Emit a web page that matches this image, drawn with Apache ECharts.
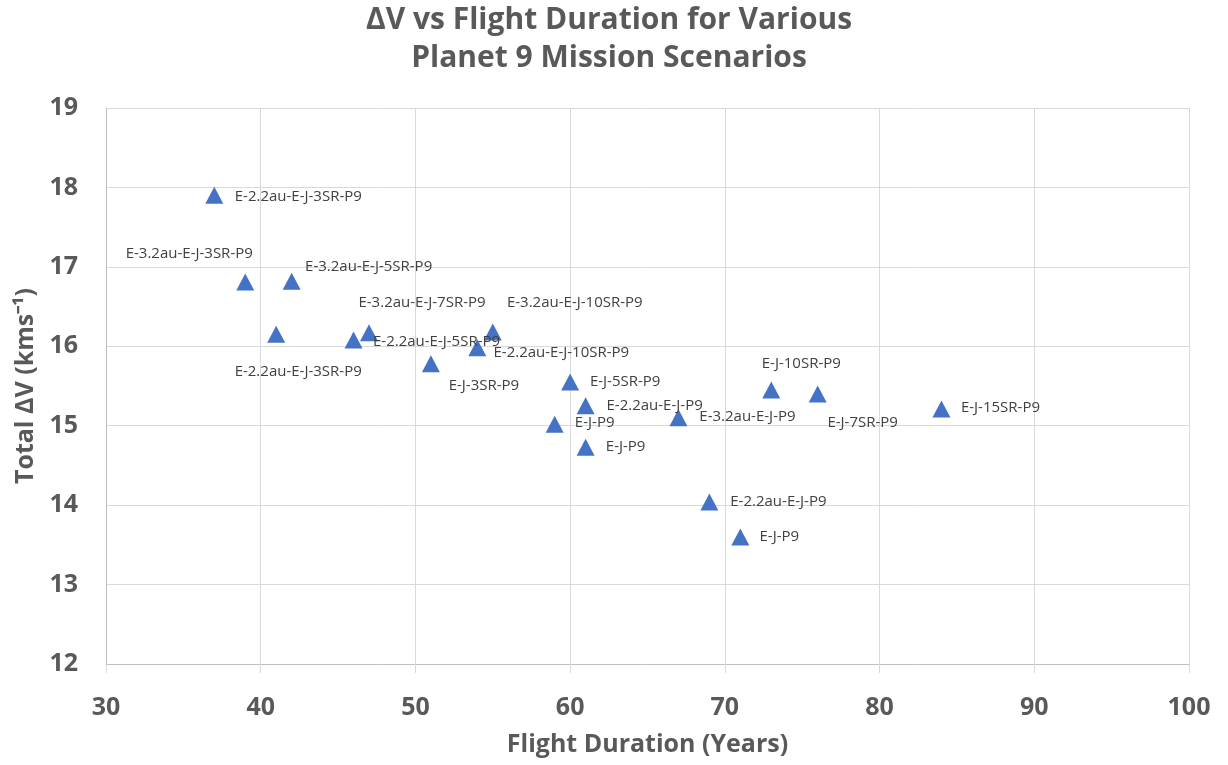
<!DOCTYPE html>
<html><head><meta charset="utf-8">
<script src="https://cdn.jsdelivr.net/npm/echarts@6/dist/echarts.min.js"></script>
<style>html,body{margin:0;padding:0;background:#fff}#c{width:1228px;height:765px}</style>
</head><body><div id="c"></div>
<script>
const names = ["E-2.2au-E-J-3SR-P9","E-3.2au-E-J-3SR-P9","E-3.2au-E-J-5SR-P9","E-2.2au-E-J-3SR-P9","E-2.2au-E-J-5SR-P9","E-3.2au-E-J-7SR-P9","E-J-3SR-P9","E-2.2au-E-J-10SR-P9","E-3.2au-E-J-10SR-P9","E-J-5SR-P9","E-2.2au-E-J-P9","E-J-P9","E-J-P9","E-3.2au-E-J-P9","E-J-10SR-P9","E-J-7SR-P9","E-J-15SR-P9","E-2.2au-E-J-P9","E-J-P9"];
const years = [37,39,42,41,46,47,51,54,55,60,61,59,61,67,73,76,84,69,71];
const deltaV = [17.90,16.81,16.82,16.15,16.08,16.17,15.78,15.98,16.18,15.55,15.25,15.02,14.73,15.10,15.45,15.40,15.21,14.04,13.60];
const xTicks = [30,40,50,60,70,80,90,100];
const yTicks = [12,13,14,15,16,17,18,19];
// label offsets from marker centre (style only)
const labelOffsets = [[84,1],[-56,-28],[77,-14],[22,37],[83,2],[53,-30],[53,22],[84,5],[82,-29],[55,0],[69,0],[40,-1],[40,0],[69,-1],[30,-26],[45,29],[59,-1],[69,0],[39,0]];

const data = years.map((x,i)=>({ value:[x, deltaV[i]], name:names[i] }));
const gray='#595959';
const chart = echarts.init(document.getElementById('c'), null, {renderer:'canvas'});
chart.setOption({
  animation:false,
  title:{
    text:'ΔV vs Flight Duration for Various\nPlanet 9 Mission Scenarios',
    left:604, textAlign:'center', top:-4,
    textStyle:{fontFamily:'Open Sans', fontWeight:'bold', fontSize:30, color:gray, lineHeight:38}
  },
  grid:{left:106, right:39, top:108, bottom:101, containLabel:false, outerBoundsMode:'none'},
  xAxis:{
    type:'value', min:xTicks[0], max:xTicks[xTicks.length-1], interval:10,
    name:'Flight Duration (Years)', nameLocation:'middle', nameGap:68,
    nameTextStyle:{fontFamily:'Open Sans', fontWeight:'bold', fontSize:25, color:gray},
    axisLine:{show:true, lineStyle:{color:'#bfbfbf', width:1}},
    axisTick:{show:true, length:9, lineStyle:{color:'#d9d9d9'}},
    axisLabel:{fontFamily:'Open Sans', fontWeight:'bold', fontSize:25, color:gray, margin:31},
    splitLine:{show:true, lineStyle:{color:'#d9d9d9', width:1}}
  },
  yAxis:{
    type:'value', min:yTicks[0], max:yTicks[yTicks.length-1], interval:1,
    name:'Total ΔV (kms⁻¹)', nameLocation:'middle', nameGap:68, nameRotate:90,
    nameTextStyle:{fontFamily:'Open Sans', fontWeight:'bold', fontSize:25, color:gray},
    axisLine:{show:true, lineStyle:{color:'#bfbfbf', width:1}},
    axisTick:{show:false},
    axisLabel:{fontFamily:'Open Sans', fontWeight:'bold', fontSize:25, color:gray, margin:28},
    splitLine:{show:true, lineStyle:{color:'#d9d9d9', width:1}}
  },
  series:[{
    type:'scatter', symbol:'triangle', symbolSize:[18,17],
    itemStyle:{color:'#4472C4', opacity:1},
    label:{show:true, position:'inside', formatter:(p)=>p.name, fontFamily:'Open Sans', fontSize:15, color:'#404040'},
    labelLayout:(p)=>({ dx:labelOffsets[p.dataIndex][0], dy:labelOffsets[p.dataIndex][1], hideOverlap:false }),
    data:data
  }]
});
</script></body></html>
